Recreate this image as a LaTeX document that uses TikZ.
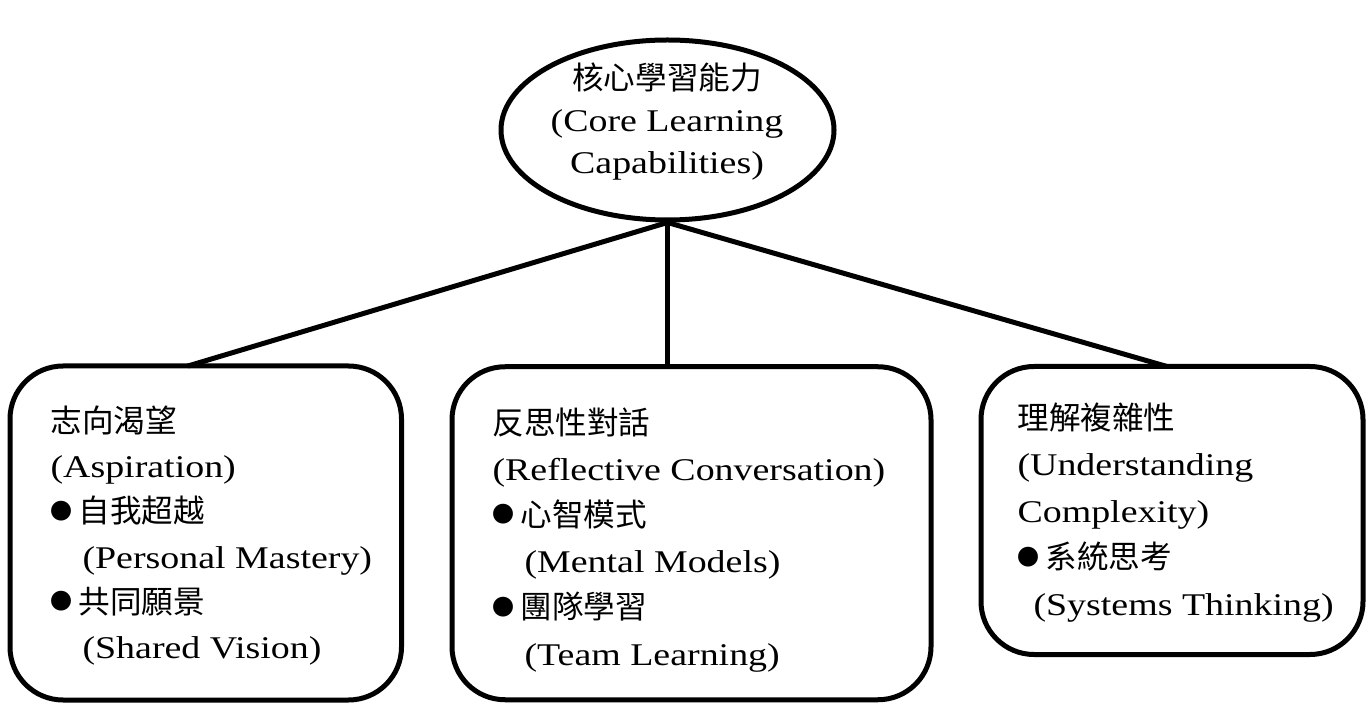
\documentclass[tikz,border=0pt]{standalone}
\usepackage{fontspec}
\setmainfont{Liberation Serif}[FakeStretch=1.2]
\newfontfamily\cjkfont{Noto Sans CJK TC}
\usetikzlibrary{shapes.geometric}
\newcommand\zh[1]{{\cjkfont #1}}
\newcommand\bul{\makebox[14pt][l]{\raisebox{1.8pt}{\fontsize{11}{11}\selectfont\cjkfont ●}}}
\begin{document}
\begin{tikzpicture}[x=0.5pt,y=-0.5pt,
  line width=2.5pt,
  boxstyle/.style={draw=black, rounded corners=26.5pt, inner sep=0pt, outer sep=0pt},
  txt/.style={inner sep=0pt, align=left, anchor=north west},
  conn/.style={draw=black, line width=2.5pt}]
\useasboundingbox[fill=white] (0,0) rectangle (1371,705);
% core ellipse
\node[ellipse, draw=black, minimum width=166.5pt, minimum height=90pt, inner sep=0pt] (core) at (667.5,130) {};
\node[font=\fontsize{15.8}{21}\selectfont, align=center, inner sep=0pt] (coretxt) at (667,122)
  {\zh{核心學習能力}\\(Core Learning\\Capabilities)};
% boxes
\node[boxstyle, minimum width=195.75pt, minimum height=167pt] (lbox) at (205.75,533) {};
\node[boxstyle, minimum width=239.5pt, minimum height=166.5pt] (mbox) at (691.5,533.25) {};
\node[boxstyle, minimum width=191pt, minimum height=144pt] (rbox) at (1172,510.5) {};
% connectors
\draw[conn] (core.south) -- ([xshift=-8.9pt]lbox.north);
\draw[conn] (core.south) -- (core.south |- mbox.north);
\draw[conn] (core.south) -- ([xshift=-2.5pt]rbox.north);
% texts
\node[txt, font=\fontsize{15.8}{22.65}\selectfont] (ltxt) at (48,403) {\zh{志向渴望}\\(Aspiration)\\\bul\zh{自我超越}\\\hspace*{16pt}(Personal Mastery)\\\bul\zh{共同願景}\\\hspace*{16pt}(Shared Vision)};
\node[txt, font=\fontsize{15.8}{23.1}\selectfont] (mtxt) at (490,405) {\zh{反思性對話}\\(Reflective Conversation)\\\bul\zh{心智模式}\\\hspace*{16pt}(Mental Models)\\\bul\zh{團隊學習}\\\hspace*{16pt}(Team Learning)};
\node[txt, font=\fontsize{15.8}{23.3}\selectfont] (rtxt) at (1015,400) {\zh{理解複雜性}\\(Understanding\\Complexity)\\\bul\zh{系統思考}\\\hspace*{8pt}(Systems Thinking)};
\end{tikzpicture}
\end{document}
